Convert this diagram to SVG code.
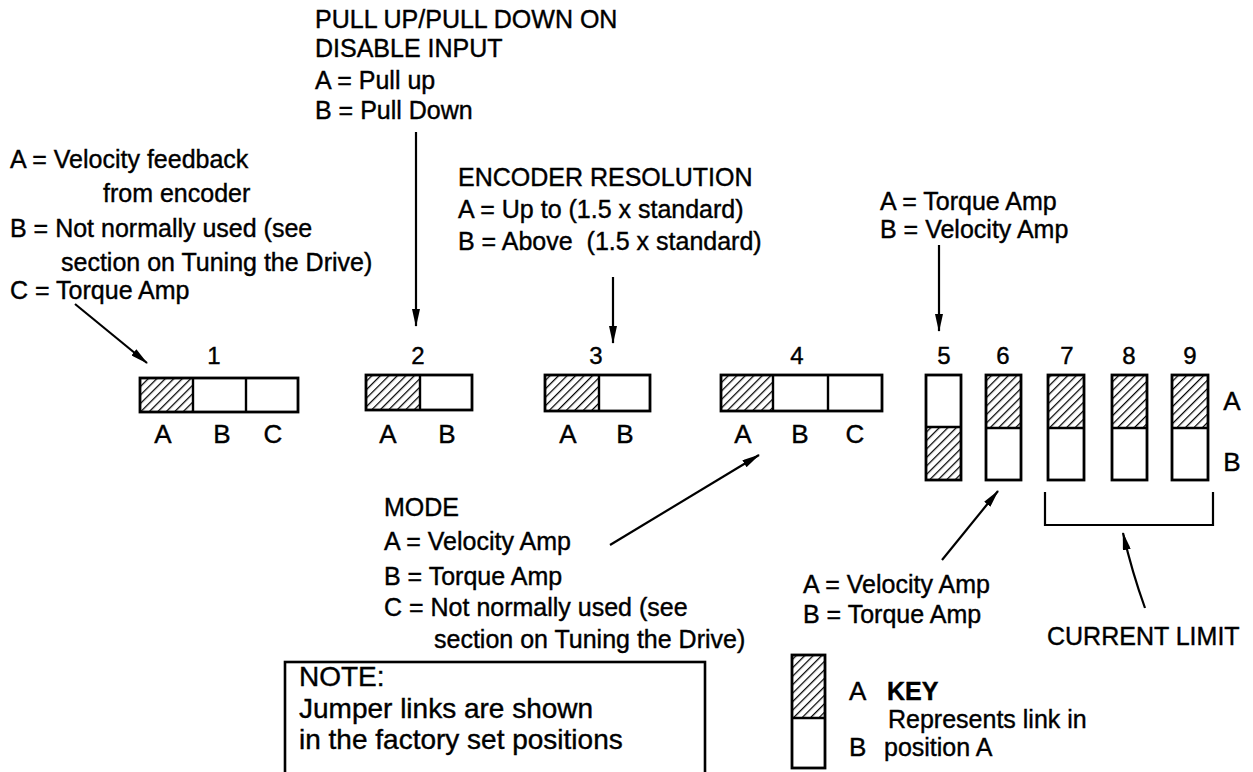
<svg xmlns="http://www.w3.org/2000/svg" width="1253" height="772" viewBox="0 0 1253 772">
<defs>
<style>
text{font-family:"Liberation Sans",Arial,sans-serif;fill:#000;stroke:#000;stroke-width:0.4}
.t{font-size:25px}
.n{font-size:24px}
.l{font-size:26px}
.note{font-size:28px}
.box{fill:none;stroke:#000;stroke-width:2.8}
.hat{fill:url(#hatch);stroke:none}
.div{stroke:#000;stroke-width:2.4}
.ln{stroke:#000;stroke-width:2.2;fill:none}
</style>
<pattern id="hatch" patternUnits="userSpaceOnUse" width="6" height="6" patternTransform="rotate(45)">
<rect width="6" height="6" fill="#fff"/>
<line x1="0" y1="0" x2="0" y2="6" stroke="#000" stroke-width="2.5"/>
</pattern>
<marker id="ah" markerWidth="18" markerHeight="8" refX="17" refY="4" orient="auto" markerUnits="userSpaceOnUse">
<path d="M0,0 L18,4 L0,8 Z" fill="#000"/>
</marker>
</defs>
<rect width="1253" height="772" fill="#fff"/>

<g id="label-j1">
<text class="t" x="10" y="168">A = Velocity feedback</text>
<text class="t" x="103" y="202">from encoder</text>
<text class="t" x="10" y="237">B = Not normally used (see</text>
<text class="t" x="61" y="271">section on Tuning the Drive)</text>
<text class="t" x="10" y="299">C = Torque Amp</text>
</g>
<g id="label-j2">
<text class="t" x="315" y="28">PULL UP/PULL DOWN ON</text>
<text class="t" x="315" y="57">DISABLE INPUT</text>
<text class="t" x="315" y="89">A = Pull up</text>
<text class="t" x="315" y="119">B = Pull Down</text>
</g>
<g id="label-j3">
<text class="t" x="458" y="186">ENCODER RESOLUTION</text>
<text class="t" x="458" y="218">A = Up to (1.5 x standard)</text>
<text class="t" x="458" y="250" xml:space="preserve">B = Above  (1.5 x standard)</text>
</g>
<g id="label-j5">
<text class="t" x="880" y="210">A = Torque Amp</text>
<text class="t" x="880" y="238">B = Velocity Amp</text>
</g>
<g id="label-j4">
<text class="t" x="384" y="516">MODE</text>
<text class="t" x="384" y="550">A = Velocity Amp</text>
<text class="t" x="384" y="585">B = Torque Amp</text>
<text class="t" x="384" y="616">C = Not normally used (see</text>
<text class="t" x="434" y="648">section on Tuning the Drive)</text>
</g>
<g id="label-j6">
<text class="t" x="803" y="593">A = Velocity Amp</text>
<text class="t" x="803" y="623">B = Torque Amp</text>
</g>
<g id="label-current">
<text class="t" x="1047" y="645">CURRENT LIMIT</text>
</g>

<g id="jumper1">
<text class="n" x="214" y="364" text-anchor="middle">1</text>
<rect class="hat" x="140" y="378" width="53" height="34"/>
<rect class="box" x="140" y="378" width="158" height="34"/>
<line class="div" x1="193" y1="378" x2="193" y2="412"/>
<line class="div" x1="246" y1="378" x2="246" y2="412"/>
<text class="l" x="163" y="443" text-anchor="middle">A</text>
<text class="l" x="222" y="443" text-anchor="middle">B</text>
<text class="l" x="273" y="443" text-anchor="middle">C</text>
</g>
<g id="jumper2">
<text class="n" x="418" y="364" text-anchor="middle">2</text>
<rect class="hat" x="366" y="375" width="54" height="35"/>
<rect class="box" x="366" y="375" width="106" height="35"/>
<line class="div" x1="420" y1="375" x2="420" y2="410"/>
<text class="l" x="388" y="443" text-anchor="middle">A</text>
<text class="l" x="447" y="443" text-anchor="middle">B</text>
</g>
<g id="jumper3">
<text class="n" x="596" y="364" text-anchor="middle">3</text>
<rect class="hat" x="545" y="375" width="54" height="36"/>
<rect class="box" x="545" y="375" width="105" height="36"/>
<line class="div" x1="599" y1="375" x2="599" y2="411"/>
<text class="l" x="568" y="443" text-anchor="middle">A</text>
<text class="l" x="625" y="443" text-anchor="middle">B</text>
</g>
<g id="jumper4">
<text class="n" x="797" y="364" text-anchor="middle">4</text>
<rect class="hat" x="721" y="375" width="52" height="36"/>
<rect class="box" x="721" y="375" width="161" height="36"/>
<line class="div" x1="773" y1="375" x2="773" y2="411"/>
<line class="div" x1="828" y1="375" x2="828" y2="411"/>
<text class="l" x="743" y="443" text-anchor="middle">A</text>
<text class="l" x="800" y="443" text-anchor="middle">B</text>
<text class="l" x="855" y="443" text-anchor="middle">C</text>
</g>
<g id="jumper5">
<text class="n" x="944" y="364" text-anchor="middle">5</text>
<rect class="hat" x="926" y="427" width="35" height="53"/>
<rect class="box" x="926" y="375" width="35" height="105"/>
<line class="div" x1="926" y1="427" x2="961" y2="427"/>
</g>
<g id="jumper6">
<text class="n" x="1003" y="364" text-anchor="middle">6</text>
<rect class="hat" x="986" y="375" width="35" height="53"/>
<rect class="box" x="986" y="375" width="35" height="105"/>
<line class="div" x1="986" y1="428" x2="1021" y2="428"/>
</g>
<g id="jumper7">
<text class="n" x="1067" y="364" text-anchor="middle">7</text>
<rect class="hat" x="1048" y="375" width="36" height="53"/>
<rect class="box" x="1048" y="375" width="36" height="105"/>
<line class="div" x1="1048" y1="428" x2="1084" y2="428"/>
</g>
<g id="jumper8">
<text class="n" x="1129" y="364" text-anchor="middle">8</text>
<rect class="hat" x="1112" y="375" width="35" height="53"/>
<rect class="box" x="1112" y="375" width="35" height="105"/>
<line class="div" x1="1112" y1="428" x2="1147" y2="428"/>
</g>
<g id="jumper9">
<text class="n" x="1190" y="364" text-anchor="middle">9</text>
<rect class="hat" x="1172" y="375" width="36" height="53"/>
<rect class="box" x="1172" y="375" width="36" height="105"/>
<line class="div" x1="1172" y1="428" x2="1208" y2="428"/>
</g>
<g id="row-labels">
<text class="l" x="1232" y="410" text-anchor="middle">A</text>
<text class="l" x="1232" y="471" text-anchor="middle">B</text>
</g>

<g id="note">
<rect x="285" y="662" width="420" height="130" fill="none" stroke="#000" stroke-width="2.6"/>
<text class="note" x="299" y="686">NOTE:</text>
<text class="note" x="299" y="718">Jumper links are shown</text>
<text class="note" x="299" y="749">in the factory set positions</text>
</g>

<g id="key">
<rect class="hat" x="792" y="655" width="33" height="63"/>
<rect class="box" x="792" y="655" width="33" height="113"/>
<line class="div" x1="792" y1="718" x2="825" y2="718"/>
<text class="l" x="849" y="700">A</text>
<text class="t" x="887" y="700" font-weight="bold">KEY</text>
<text class="t" x="888" y="728">Represents link in</text>
<text class="l" x="849" y="756">B</text>
<text class="t" x="884" y="756">position A</text>
</g>

<g id="connectors">
<line class="ln" x1="75" y1="304" x2="147" y2="363" marker-end="url(#ah)"/>
<line class="ln" x1="416" y1="132" x2="416" y2="326" marker-end="url(#ah)"/>
<line class="ln" x1="613" y1="277" x2="613" y2="343" marker-end="url(#ah)"/>
<line class="ln" x1="939" y1="245" x2="939" y2="331" marker-end="url(#ah)"/>
<line class="ln" x1="610" y1="545" x2="759" y2="455" marker-end="url(#ah)"/>
<line class="ln" x1="942" y1="560" x2="998" y2="491" marker-end="url(#ah)"/>
<path class="ln" d="M1145,608 Q1132,572 1123,533" marker-end="url(#ah)"/>
<path class="ln" d="M1045,492 V525 H1213 V492"/>
</g>
</svg>
